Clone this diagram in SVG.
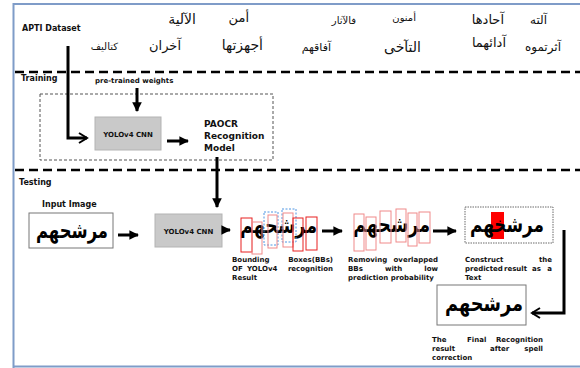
<svg xmlns="http://www.w3.org/2000/svg" width="580" height="368" viewBox="0 0 580 368">
<style>
.en{font-family:"DejaVu Sans",Verdana,sans-serif;font-weight:bold;fill:#111}
.s7{font-size:7px}
.s8{font-size:8px}
.ar{font-family:"DejaVu Sans",sans-serif;fill:#111}
.big{font-family:"DejaVu Sans",sans-serif;font-weight:bold;font-size:22px;fill:#000}
.ln{fill:none;stroke:#000;stroke-width:3}
.dash{fill:none;stroke:#000;stroke-width:2.5;stroke-dasharray:9,5}
.bb{fill:none;stroke:#e82020;stroke-width:1}
.bbl{fill:none;stroke:#f08a8a;stroke-width:1}
.bbb{fill:none;stroke:#3a8ae0;stroke-width:0.9;stroke-dasharray:2,1.5}
.cnn{fill:#c9c9c9;stroke:#b3b3b3;stroke-width:1}
.img{fill:#fff;stroke:#777;stroke-width:1}
</style>
<defs>
<marker id="tri" viewBox="0 0 10 10" refX="9" refY="5" markerWidth="3.2" markerHeight="3.2" orient="auto" markerUnits="strokeWidth">
<path d="M0,0 L10,5 L0,10 z" fill="#000"/>
</marker>
<marker id="chev" viewBox="0 0 12 12" refX="10" refY="6" markerWidth="4" markerHeight="4" orient="auto" markerUnits="strokeWidth">
<path d="M2,1 L10,6 L2,11" fill="none" stroke="#000" stroke-width="2"/>
</marker>
</defs>
<rect width="580" height="368" fill="#fff"/>
<path d="M13.5,368 L13.5,4 L580,4 M13.5,366.5 L580,366.5" fill="none" stroke="#7f9cc8" stroke-width="2"/>

<g id="dataset">
<text class="en s8" x="22" y="31" font-size="8.5">APTI Dataset</text>
<text class="ar" font-size="10" x="118" y="50" text-anchor="end">كتاليف</text>
<text class="ar" font-size="14" x="196" y="24" text-anchor="end">الآلية</text>
<text class="ar" font-size="13" x="181" y="50" text-anchor="end">آخران</text>
<text class="ar" font-size="13" x="249" y="22" text-anchor="end">أمن</text>
<text class="ar" font-size="14" x="263" y="50" text-anchor="end">أجهزتها</text>
<text class="ar" font-size="10" x="356" y="24" text-anchor="end">فالآثار</text>
<text class="ar" font-size="11" x="331" y="51" text-anchor="end">آفاقهم</text>
<text class="ar" font-size="10" x="416" y="21" text-anchor="end">أمنون</text>
<text class="ar" font-size="14" x="421" y="52" text-anchor="end">التآخى</text>
<text class="ar" font-size="13" x="504" y="24" text-anchor="end">آحادها</text>
<text class="ar" font-size="13" x="506" y="47" text-anchor="end">آدائهما</text>
<text class="ar" font-size="12" x="547" y="24" text-anchor="end">آلته</text>
<text class="ar" font-size="12" x="561" y="51" text-anchor="end">آثرتموه</text>
</g>

<g id="sections">
<line class="dash" x1="15" y1="72" x2="580" y2="72"/>
<line class="dash" x1="15" y1="170" x2="580" y2="170"/>
<text class="en s8" x="21" y="81">Training</text>
<text class="en s8" x="19" y="185">Testing</text>
<rect x="40" y="94" width="233" height="66" fill="none" stroke="#555" stroke-width="1" stroke-dasharray="3,2"/>
</g>

<g id="pretrained">
<text class="en s7" x="95" y="83" font-size="6.8">pre-trained weights</text>
</g>

<g id="yolo-train">
<rect class="cnn" x="95" y="117" width="66" height="33"/>
<text class="en s7" x="128" y="136.5" text-anchor="middle" font-size="6.8">YOLOv4 CNN</text>
</g>

<g id="paocr">
<text class="en" font-size="9" x="204" y="127">PAOCR</text>
<text class="en" font-size="9" x="204" y="139">Recognition</text>
<text class="en" font-size="9" x="204" y="151">Model</text>
</g>

<g id="input">
<text class="en s8" x="42" y="207">Input Image</text>
<rect class="img" x="29" y="213" width="84" height="35"/>
<text class="big" x="108" y="238" text-anchor="end" textLength="72" lengthAdjust="spacingAndGlyphs">مرشحهم</text>
</g>

<g id="yolo-test">
<rect class="cnn" x="155" y="214" width="67" height="33"/>
<text class="en s7" x="188.5" y="233.5" text-anchor="middle" font-size="6.8">YOLOv4 CNN</text>
</g>

<g id="bounding">
<text class="big" x="317" y="233" text-anchor="end" textLength="77" lengthAdjust="spacingAndGlyphs">مرشحهم</text>
<rect class="bb" x="241" y="218" width="11" height="34"/>
<rect class="bbl" x="252" y="222" width="10" height="32"/>
<rect class="bbb" x="264" y="212" width="14" height="33"/>
<rect class="bbl" x="268" y="215" width="9" height="33"/>
<rect class="bbb" x="282" y="209" width="14" height="33"/>
<rect class="bbl" x="283" y="213" width="10" height="34"/>
<rect class="bb" x="293" y="218" width="10" height="33"/>
<rect class="bb" x="306" y="217" width="11" height="33"/>
<text class="en s7" x="232" y="262">Bounding</text>
<text class="en s7" x="333" y="262" text-anchor="end">Boxes(BBs)</text>
<text class="en s7" x="232" y="271">OF</text>
<text class="en s7" x="247" y="271">YOLOv4</text>
<text class="en s7" x="333" y="271" text-anchor="end">recognition</text>
<text class="en s7" x="232" y="280">Result</text>
</g>

<g id="removing">
<text class="big" x="430" y="232" text-anchor="end" textLength="77" lengthAdjust="spacingAndGlyphs">مرشحهم</text>
<rect class="bbl" x="354" y="214" width="10" height="37"/>
<rect class="bbl" x="366" y="217" width="10" height="33"/>
<rect class="bbl" x="380" y="211" width="11" height="32"/>
<rect class="bbl" x="396" y="209" width="10" height="33"/>
<rect class="bbl" x="408" y="213" width="9" height="33"/>
<rect class="bbl" x="419" y="212" width="11" height="31"/>
<text class="en s7" x="348" y="262">Removing</text>
<text class="en s7" x="438" y="262" text-anchor="end">overlapped</text>
<text class="en s7" x="348" y="271">BBs</text>
<text class="en s7" x="385" y="271">with</text>
<text class="en s7" x="438" y="271" text-anchor="end">low</text>
<text class="en s7" x="348" y="280">prediction probability</text>
</g>

<g id="construct">
<rect x="465" y="207" width="88" height="36" fill="#fff" stroke="#444" stroke-width="0.8" stroke-dasharray="1.5,1"/>
<rect x="491" y="212" width="13" height="27" fill="#ff0000"/>
<text class="big" x="544" y="232" text-anchor="end" textLength="74" lengthAdjust="spacingAndGlyphs">مرشخهم</text>
<text class="en s7" x="465" y="262">Construct</text>
<text class="en s7" x="552" y="262" text-anchor="end">the</text>
<text class="en s7" x="465" y="271">predicted</text>
<text class="en s7" x="504" y="271">result</text>
<text class="en s7" x="532" y="271">as</text>
<text class="en s7" x="552" y="271" text-anchor="end">a</text>
<text class="en s7" x="465" y="280">Text</text>
</g>

<g id="final">
<rect class="img" x="437" y="285" width="89" height="40"/>
<text class="big" x="523" y="311" text-anchor="end" textLength="78" lengthAdjust="spacingAndGlyphs">مرشحهم</text>
<text class="en s7" x="432" y="342">The</text>
<text class="en s7" x="467" y="342">Final</text>
<text class="en s7" x="543" y="342" text-anchor="end">Recognition</text>
<text class="en s7" x="432" y="351">result</text>
<text class="en s7" x="490" y="351">after</text>
<text class="en s7" x="543" y="351" text-anchor="end">spell</text>
<text class="en s7" x="432" y="360">correction</text>
</g>

<g id="connectors">
<path class="ln" d="M68,46 L68,138 L87,138" marker-end="url(#chev)"/>
<path class="ln" d="M137,88 L137,111" marker-end="url(#tri)"/>
<path class="ln" d="M167,141 L188,141" marker-end="url(#tri)"/>
<path class="ln" d="M217,157 L217,207" marker-end="url(#tri)"/>
<path class="ln" d="M118,235 L138,235" marker-end="url(#tri)"/>
<path class="ln" d="M224,230 L230,230" marker-end="url(#tri)"/>
<path class="ln" d="M322,231 L342,231" marker-end="url(#tri)"/>
<path class="ln" d="M433,231 L456,231" marker-end="url(#tri)"/>
<path class="ln" d="M564,230 L564,313 L532,313" marker-end="url(#chev)"/>
</g>
</svg>
